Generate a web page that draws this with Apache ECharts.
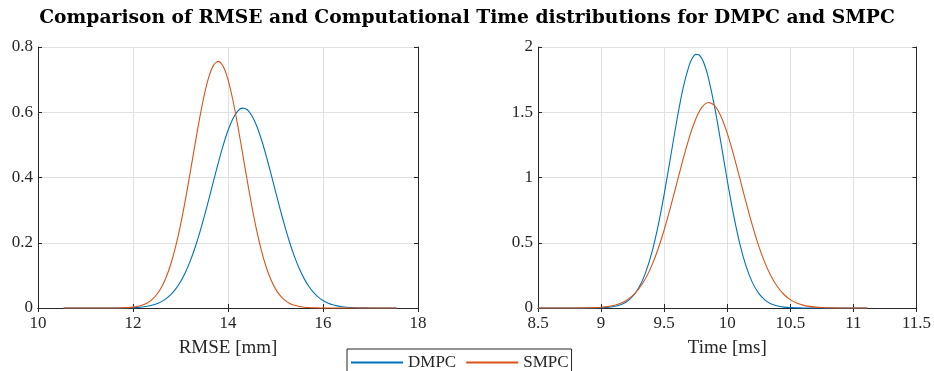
<!DOCTYPE html>
<html>
<head>
<meta charset="utf-8">
<script src="https://cdn.jsdelivr.net/npm/echarts@6/dist/echarts.min.js"></script>
<style>
  html, body { margin: 0; padding: 0; background: #fff; }
  #chart { width: 934px; height: 371px; }
</style>
</head>
<body>
<div id="chart"></div>
<script>
// RMSE [mm] sample positions and estimated densities
const rmseX = [10.54, 11.0, 11.5, 11.8,
  12.0, 12.1, 12.2, 12.3, 12.4, 12.5, 12.6, 12.7, 12.8, 12.9,
  13.0, 13.1, 13.2, 13.3, 13.4, 13.5, 13.6, 13.7, 13.8, 13.9,
  14.0, 14.1, 14.2, 14.3, 14.4, 14.5, 14.6, 14.7, 14.8, 14.9,
  15.0, 15.1, 15.2, 15.3, 15.4, 15.5, 15.6, 15.7, 15.8, 15.9,
  16.0, 16.1, 16.2, 16.3, 16.4, 16.5, 16.6, 16.7, 16.8,
  17.0, 17.3, 17.55];
const rmseDMPC = [0, 0, 0.0001, 0.0004,
  0.0012, 0.0020, 0.0033, 0.0053, 0.0084, 0.0129, 0.0195, 0.0288, 0.0415, 0.0585,
  0.0805, 0.1082, 0.1421, 0.1823, 0.2286, 0.2800, 0.3351, 0.3917, 0.4473, 0.4991,
  0.5440, 0.5794, 0.6028, 0.6127, 0.6084, 0.5903, 0.5595, 0.5180, 0.4686, 0.4142,
  0.3576, 0.3017, 0.2486, 0.2001, 0.1574, 0.1210, 0.0908, 0.0666, 0.0477, 0.0334,
  0.0229, 0.0153, 0.0100, 0.0064, 0.0040, 0.0024, 0.0014, 0.0008, 0.0005,
  0.0001, 0, 0];
const rmseSMPC = [0, 0, 0.0001, 0.0008,
  0.0028, 0.0051, 0.0091, 0.0156, 0.0259, 0.0413, 0.0637, 0.0949, 0.1365, 0.1895,
  0.2541, 0.3291, 0.4116, 0.4970, 0.5796, 0.6527, 0.7098, 0.7453, 0.7559, 0.7402,
  0.7000, 0.6391, 0.5636, 0.4800, 0.3946, 0.3134, 0.2403, 0.1780, 0.1272, 0.0879,
  0.0586, 0.0377, 0.0235, 0.0141, 0.0082, 0.0046, 0.0025, 0.0013, 0.0006, 0.0003,
  0.0001, 0, 0, 0, 0, 0, 0, 0, 0,
  0, 0, 0];

// Computational time [ms] sample positions and estimated densities
const timeX = [8.5, 8.7, 8.8, 8.9, 8.95,
  9.0, 9.05, 9.1, 9.15, 9.2, 9.25, 9.3, 9.35, 9.4, 9.45,
  9.5, 9.55, 9.6, 9.65, 9.7, 9.725, 9.75, 9.775, 9.8, 9.825, 9.85, 9.9, 9.95,
  10.0, 10.05, 10.1, 10.15, 10.2, 10.25, 10.3, 10.35, 10.4, 10.45,
  10.5, 10.55, 10.6, 10.65, 10.7, 10.75, 10.8,
  10.9, 11.0, 11.11];
const timeDMPC = [0, 0, 0, 0.0003, 0.0008,
  0.0020, 0.0048, 0.0109, 0.0233, 0.0466, 0.0881, 0.1569, 0.2634, 0.4164, 0.6202,
  0.8706, 1.1514, 1.4350, 1.6850, 1.8645, 1.9178, 1.9437, 1.9408, 1.9094, 1.8506, 1.7672, 1.5412, 1.2665,
  0.9806, 0.7155, 0.4918, 0.3185, 0.1944, 0.1118, 0.0606, 0.0309, 0.0149, 0.0067,
  0.0029, 0.0012, 0.0004, 0.0002, 0.0001, 0, 0,
  0, 0, 0];
const timeSMPC = [0, 0, 0.0003, 0.0014, 0.0029,
  0.0057, 0.0108, 0.0197, 0.0345, 0.0581, 0.0944, 0.1475, 0.2216, 0.3207, 0.4464,
  0.5977, 0.7703, 0.9552, 1.1401, 1.3093, 1.3830, 1.4469, 1.4994, 1.5388, 1.5642, 1.5749, 1.5506, 1.4695,
  1.3398, 1.1757, 0.9928, 0.8067, 0.6307, 0.4745, 0.3436, 0.2394, 0.1605, 0.1035,
  0.0642, 0.0384, 0.0220, 0.0122, 0.0065, 0.0033, 0.0016,
  0.0004, 0.0001, 0];

const seriesNames = ['DMPC', 'SMPC'];
const seriesColors = ['#0072BD', '#D95319'];
const titleText = 'Comparison of RMSE and Computational Time distributions for DMPC and SMPC';

const serif = 'Liberation Serif';
const axisColor = '#262626';
const gridColor = '#e1e1e1';

const pairs = (xs, ys) => xs.map((x, i) => [x, ys[i]]);

function mainX(gridIndex, min, max, interval, name) {
  return {
    type: 'value', gridIndex, min, max, interval, position: 'bottom',
    name, nameLocation: 'middle', nameGap: 31,
    nameTextStyle: { fontFamily: serif, fontSize: 19, color: axisColor },
    axisLine: { show: true, lineStyle: { color: axisColor, width: 1 } },
    axisTick: { show: true, inside: true, length: 4, lineStyle: { color: axisColor } },
    axisLabel: { fontFamily: serif, fontSize: 17, color: axisColor, margin: 7 },
    splitLine: { show: true, lineStyle: { color: gridColor, width: 1 } }
  };
}
function mirrorX(gridIndex, min, max, interval) {
  return {
    type: 'value', gridIndex, min, max, interval, position: 'top',
    axisLine: { show: true, lineStyle: { color: axisColor, width: 1 } },
    axisTick: { show: true, inside: true, length: 4, lineStyle: { color: axisColor } },
    axisLabel: { show: false }, splitLine: { show: false }
  };
}
function mainY(gridIndex, min, max, interval) {
  return {
    type: 'value', gridIndex, min, max, interval, position: 'left',
    axisLine: { show: true, lineStyle: { color: axisColor, width: 1 } },
    axisTick: { show: true, inside: true, length: 4, lineStyle: { color: axisColor } },
    axisLabel: { fontFamily: serif, fontSize: 17, color: axisColor, margin: 5 },
    splitLine: { show: true, lineStyle: { color: gridColor, width: 1 } }
  };
}
function mirrorY(gridIndex, min, max, interval) {
  return {
    type: 'value', gridIndex, min, max, interval, position: 'right',
    axisLine: { show: true, lineStyle: { color: axisColor, width: 1 } },
    axisTick: { show: true, inside: true, length: 4, lineStyle: { color: axisColor } },
    axisLabel: { show: false }, splitLine: { show: false }
  };
}
function curve(name, color, xIdx, yIdx, data) {
  return {
    name, type: 'line', xAxisIndex: xIdx, yAxisIndex: yIdx, data,
    showSymbol: false, symbol: 'none', clip: false,
    smooth: 0.25,
    lineStyle: { color, width: 1.1 }, itemStyle: { color },
    emphasis: { disabled: true }, animation: false
  };
}

const chart = echarts.init(document.getElementById('chart'), null, { renderer: 'canvas' });
chart.setOption({
  backgroundColor: '#ffffff',
  animation: false,
  title: {
    text: titleText, left: 'center', top: 4,
    textStyle: { fontFamily: 'DejaVu Serif', fontWeight: 'bold', fontSize: 18.7, color: '#000' }
  },
  legend: {
    data: seriesNames, left: 347, top: 349,
    itemWidth: 52, itemHeight: 2, itemGap: 10,
    padding: [5, 3, 8, 4],
    borderColor: axisColor, borderWidth: 1,
    textStyle: { fontFamily: serif, fontSize: 17, color: axisColor },
    icon: 'rect'
  },
  grid: [
    { left: 38, top: 47, width: 380, height: 261, containLabel: false },
    { left: 538, top: 47, width: 380, height: 261, containLabel: false }
  ],
  xAxis: [
    mainX(0, 10, 18, 2, 'RMSE [mm]'),
    mirrorX(0, 10, 18, 2),
    mainX(1, 8.5, 11.5, 0.5, 'Time [ms]'),
    mirrorX(1, 8.5, 11.5, 0.5)
  ],
  yAxis: [
    mainY(0, 0, 0.8, 0.2),
    mirrorY(0, 0, 0.8, 0.2),
    mainY(1, 0, 2, 0.5),
    mirrorY(1, 0, 2, 0.5)
  ],
  series: [
    curve(seriesNames[0], seriesColors[0], 0, 0, pairs(rmseX, rmseDMPC)),
    curve(seriesNames[1], seriesColors[1], 0, 0, pairs(rmseX, rmseSMPC)),
    curve(seriesNames[0], seriesColors[0], 2, 2, pairs(timeX, timeDMPC)),
    curve(seriesNames[1], seriesColors[1], 2, 2, pairs(timeX, timeSMPC))
  ]
});
</script>
</body>
</html>
